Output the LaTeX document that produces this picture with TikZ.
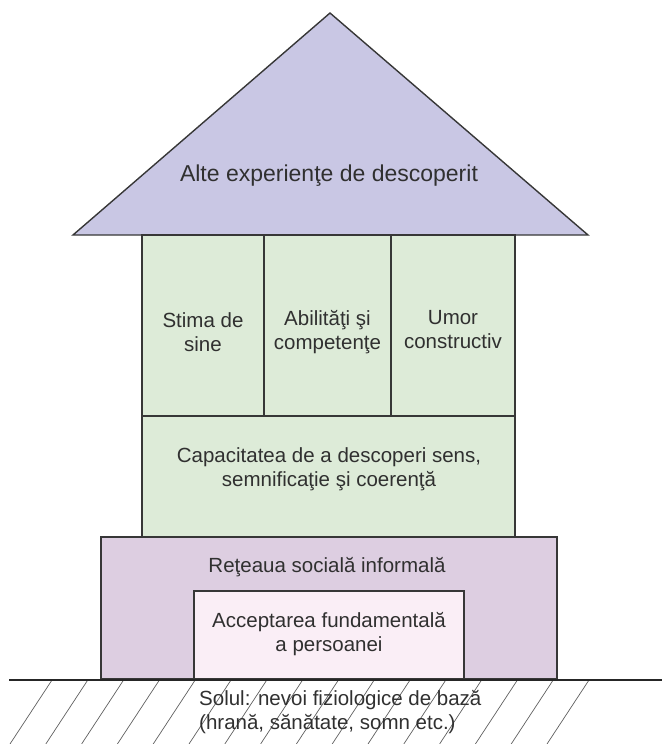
\documentclass[tikz,border=0pt]{standalone}
\usepackage{fontspec}
\setmainfont{Liberation Sans}
\definecolor{roofc}{RGB}{201,199,228}
\definecolor{greenc}{RGB}{221,235,216}
\definecolor{purplec}{RGB}{221,206,225}
\definecolor{pinkc}{RGB}{250,238,246}
\definecolor{linec}{RGB}{55,55,55}
\definecolor{hatchc}{RGB}{95,95,95}
\definecolor{txtc}{RGB}{48,48,48}
\begin{document}
\begin{tikzpicture}[x=1pt,y=-1pt,
  boxline/.style={draw=linec, line width=1.3pt},
  gbox/.style={boxline, fill=greenc, rectangle, inner sep=0pt},
  pbox/.style={boxline, fill=purplec, rectangle, inner sep=0pt},
  ibox/.style={boxline, fill=pinkc, rectangle, inner sep=0pt},
  lbl/.style={text=txtc, font=\fontsize{20.5}{24}\selectfont, align=center, inner sep=0pt},
  hatchline/.style={draw=hatchc, line width=0.7pt},
  groundline/.style={draw=black!85, line width=2.4pt}]
\useasboundingbox (0,0) rectangle (662,744);
% roof
\coordinate (apex) at (330,13);
\coordinate (roofL) at (73,235);
\coordinate (roofR) at (588,235);
\filldraw[fill=roofc, draw=linec, line width=1.4pt, line join=miter] (roofL) -- (apex) -- (roofR) -- cycle;
% green walls
\node[gbox, minimum width=122pt, minimum height=181pt] (c1) at (203,325.5) {};
\node[gbox, minimum width=127pt, minimum height=181pt] (c2) at (327.5,325.5) {};
\node[gbox, minimum width=124pt, minimum height=181pt] (c3) at (453,325.5) {};
\node[gbox, minimum width=373pt, minimum height=121pt] (cap) at (328.5,476.5) {};
% base
\node[pbox, minimum width=456pt, minimum height=142pt] (base) at (329,608) {};
\node[ibox, minimum width=270pt, minimum height=88pt] (inner) at (329,635) {};
% ground
\foreach \i in {0,...,15}{
  \draw[hatchline] ({52+35.8*\i},680) -- ++(-42,64);
}
\coordinate (gL) at (9,680);
\coordinate (gR) at (662,680);
\draw[groundline] (gL) -- (gR);
% texts
\node[lbl, font=\fontsize{23}{26}\selectfont] (roofT) at (329,176) {Alte experienţe de descoperit};
\node[lbl] (t1) at (203,332) {Stima de\\sine};
\node[lbl] (t2) at (327.5,332) {Abilităţi şi\\competenţe};
\node[lbl] (t3) at (453,330) {Umor\\constructiv};
\node[lbl] (t4) at (329,469) {Capacitatea de a descoperi sens,\\semnificaţie şi coerenţă};
\node[lbl] (t5) at (327,567) {Reţeaua socială informală};
\node[lbl] (t6) at (329,634) {Acceptarea fundamentală\\a persoanei};
\node[lbl, align=left, anchor=west] (t7) at (199,712) {Solul: nevoi fiziologice de bază\\(hrană, sănătate, somn etc.)};
\end{tikzpicture}
\end{document}
